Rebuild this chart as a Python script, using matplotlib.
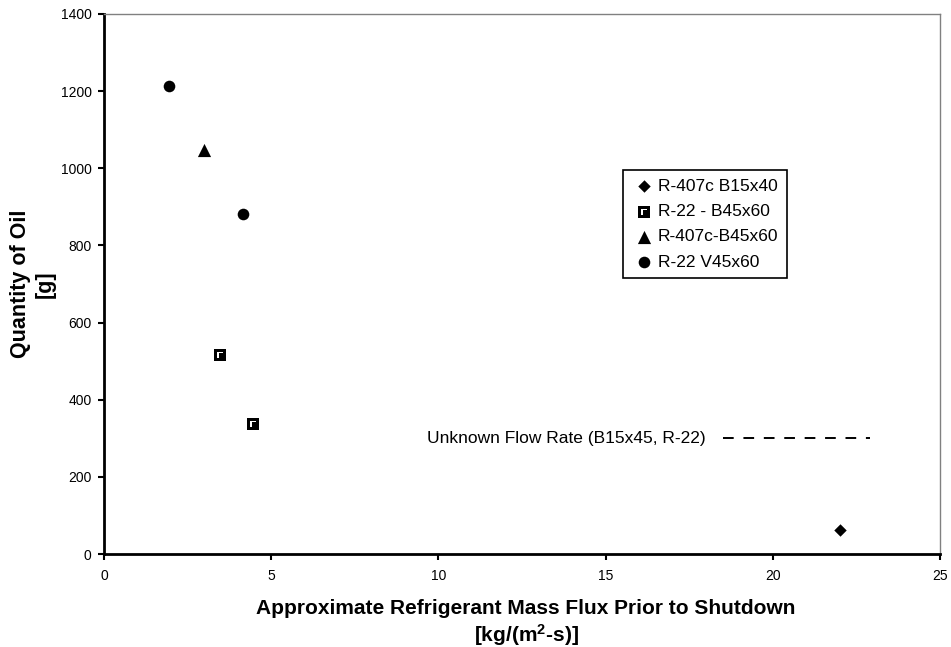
import numpy as np
import matplotlib.pyplot as plt
from matplotlib.path import Path

plt.rcParams['font.family'] = ['Liberation Sans', 'DejaVu Sans']
plt.rcParams['mathtext.fontset'] = 'custom'
plt.rcParams['mathtext.rm'] = 'Liberation Sans'
plt.rcParams['mathtext.bf'] = 'Liberation Sans:bold'

# data
series_names = ['R-407c B15x40', 'R-22 - B45x60', 'R-407c-B45x60', 'R-22 V45x60']
flux_r407c_b15 = [22.0]
oil_r407c_b15 = [62]
flux_r22_b45 = [3.47, 4.46]
oil_r22_b45 = [516, 337]
flux_r407c_b45 = [2.99]
oil_r407c_b45 = [1047]
flux_r22_v45 = [1.94, 4.16]
oil_r22_v45 = [1212, 881]

unknown_x = [18.5, 22.9]
unknown_y = [300, 300]
unknown_label = 'Unknown Flow Rate (B15x45, R-22)'

x_ticks = [0, 5, 10, 15, 20, 25]
y_ticks = [0, 200, 400, 600, 800, 1000, 1200, 1400]

# square marker with a white "Γ" cut into it (excel style)
outer = [(-1, -1), (1, -1), (1, 1), (-1, 1), (-1, -1)]
inner = [(-0.5, -0.6), (-0.5, 0.55), (0.6, 0.55), (0.6, 0.3), (-0.25, 0.3), (-0.25, -0.6), (-0.5, -0.6)]
verts = outer + inner
codes = ([Path.MOVETO] + [Path.LINETO] * 3 + [Path.CLOSEPOLY]
         + [Path.MOVETO] + [Path.LINETO] * 5 + [Path.CLOSEPOLY])
sq_marker = Path(verts, codes)

fig = plt.figure(figsize=(9.51, 6.47), dpi=100)
ax = fig.add_axes([0.1094, 0.1437, 0.8790, 0.8347])

ax.scatter(flux_r407c_b15, oil_r407c_b15, marker='D', s=40, c='black', linewidths=0, label=series_names[0], zorder=3)
ax.scatter(flux_r22_b45, oil_r22_b45, marker=sq_marker, s=70, c='black', linewidths=0, label=series_names[1], zorder=3)
ax.scatter(flux_r407c_b45, oil_r407c_b45, marker='^', s=90, c='black', linewidths=0, label=series_names[2], zorder=3)
ax.scatter(flux_r22_v45, oil_r22_v45, marker='o', s=70, c='black', linewidths=0, label=series_names[3], zorder=3)

ax.plot(unknown_x, unknown_y, color='black', linestyle=(0, (5.5, 5)), linewidth=1.4)
ax.text(18.0, 300, unknown_label, ha='right', va='center', fontsize=12.5)

ax.set_xlim(0, 25)
ax.set_ylim(0, 1400)
ax.set_xticks(x_ticks)
ax.set_yticks(y_ticks)
ax.tick_params(labelsize=10, length=4, width=1.5, direction='out')
ax.tick_params(axis='y', pad=5)
ax.tick_params(axis='x', pad=7)

for side in ['left', 'bottom']:
    ax.spines[side].set_linewidth(2)
    ax.spines[side].set_color('black')
for side in ['top', 'right']:
    ax.spines[side].set_linewidth(1)
    ax.spines[side].set_color('#808080')

ax.set_ylabel('Quantity of Oil\n[g]', fontsize=15.5, fontweight='bold')
ax.yaxis.set_label_coords(-0.058, 0.5)
ax.set_xlabel('Approximate Refrigerant Mass Flux Prior to Shutdown\n[kg/(m$\\mathbf{^2}$-s)]',
              fontsize=15, fontweight='bold')
ax.xaxis.set_label_coords(0.505, -0.083)

leg = ax.legend(loc='upper left', bbox_to_anchor=(0.621, 0.711), fontsize=12.5,
                frameon=True, fancybox=False, edgecolor='black', framealpha=1,
                handletextpad=0.1, handlelength=1.4, labelspacing=0.58,
                borderpad=0.5, markerscale=1.0, borderaxespad=0)
leg.get_frame().set_linewidth(1.2)

fig.savefig('out.png', dpi=100)
